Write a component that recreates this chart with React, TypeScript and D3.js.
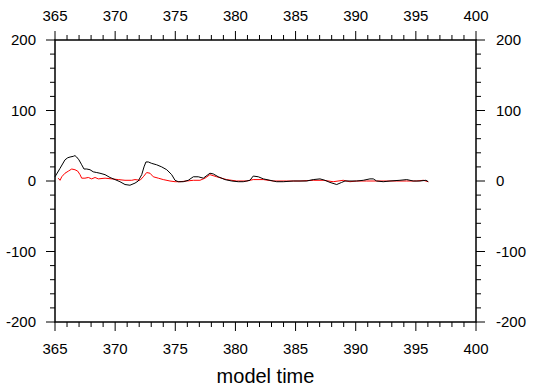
import React from 'react';
import * as d3 from 'd3';

// black series (model time, value)
const blackTime = [365.0, 365.42, 365.83, 366.06, 366.25, 366.52, 366.66, 366.8, 366.99, 367.22, 367.41, 367.64, 367.91, 368.18, 368.47, 368.74, 369.16, 369.57, 369.99, 370.4, 370.82, 371.23, 371.65, 371.92, 372.21, 372.4, 372.56, 372.76, 373.04, 373.45, 373.87, 374.29, 374.7, 374.98, 375.25, 375.66, 376.08, 376.5, 376.91, 377.33, 377.88, 378.16, 378.57, 379.13, 379.69, 380.24, 380.65, 381.21, 381.48, 381.9, 382.32, 382.87, 383.43, 383.98, 384.81, 385.92, 386.47, 387.03, 387.44, 387.86, 388.42, 388.83, 389.11, 389.52, 390.08, 390.63, 391.18, 391.46, 391.74, 392.29, 392.85, 393.68, 394.24, 394.78, 395.34, 395.84, 396.03];
const blackValue = [6, 18, 30, 33, 34, 35, 36, 34, 30, 23, 17, 17, 16, 13, 12, 11, 9, 5, 2, -1, -5, -6, -3, 0, 9, 20, 27, 27, 25, 23, 20, 16, 9, 1, -1, -1, 1, 6, 6, 4, 11, 10, 6, 2, 0, -1, -1, 1, 7, 6, 3, 1, -1, -1, 0, 0, 2, 3, 1, -2, -5, -2, 0, 0, 0, 1, 3, 3, 0, -1, 0, 1, 2, 0, 0, 1, -1];

// red series
const redTime = [365.27, 365.42, 365.56, 365.83, 366.11, 366.39, 366.66, 366.89, 367.08, 367.22, 367.49, 367.77, 368.05, 368.33, 368.6, 369.16, 369.71, 370.26, 370.82, 371.38, 371.65, 372.07, 372.34, 372.62, 372.9, 373.17, 373.59, 374.0, 374.56, 374.98, 375.39, 375.95, 376.5, 377.05, 377.47, 377.88, 378.44, 379.27, 380.1, 380.94, 381.48, 382.32, 383.15, 384.26, 385.37, 386.47, 387.3, 388.13, 388.96, 389.52, 390.08, 390.91, 391.74, 392.57, 393.4, 394.24, 395.07, 395.62, 396.03];
const redValue = [4, 1, 6, 11, 14, 17, 16, 14, 9, 4, 4, 5, 3, 5, 3, 4, 3, 2, 1, 1, 2, 1, 6, 12, 11, 6, 4, 2, 0, -1, -1, 0, 1, 1, 4, 9, 6, 2, 0, 0, 2, 2, 0, 0, 0, 1, 1, -1, 1, -1, 0, 0, 0, 0, 0, 0, 0, 1, -1];

const xMajor = [365, 370, 375, 380, 385, 390, 395, 400];
const yMajor = [-200, -100, 0, 100, 200];

const W = 533, H = 389;
const L = 55, R = 476, T = 40, B = 322;
const FONT = '"Liberation Sans", Arial, Helvetica, sans-serif';

export default function App() {
  const x = d3.scaleLinear().domain([365, 400]).range([L, R]);
  const y = d3.scaleLinear().domain([-200, 200]).range([B, T]);
  const xMinor = d3.range(365, 401, 1).filter(v => v % 5 !== 0);
  const yMinor = d3.range(-200, 201, 20).filter(v => v % 100 !== 0);
  const line = d3.line<[number, number]>().x(d => x(d[0])).y(d => y(d[1]));
  const black = line(blackTime.map((t, i) => [t, blackValue[i]]));
  const red = line(redTime.map((t, i) => [t, redValue[i]]));
  const MAJ = 9, MIN = 5;

  return (
    <svg width={W} height={H} style={{ position: 'absolute', left: 0, top: 0, background: '#fff' }} fontFamily={FONT}>
      <path d={red!} fill="none" stroke="#ff0000" strokeWidth={1} />
      <path d={black!} fill="none" stroke="#000" strokeWidth={1} />
      <rect x={L} y={T} width={R - L} height={B - T} fill="none" stroke="#000" strokeWidth={1.5} />
      <g stroke="#000" strokeWidth={1}>
        {xMajor.map(v => (
          <g key={'xm' + v}>
            <line x1={x(v)} x2={x(v)} y1={B} y2={B + MAJ} />
            <line x1={x(v)} x2={x(v)} y1={T} y2={T - MAJ} />
          </g>
        ))}
        {xMinor.map(v => (
          <g key={'xn' + v}>
            <line x1={x(v)} x2={x(v)} y1={B} y2={B + MIN} />
            <line x1={x(v)} x2={x(v)} y1={T} y2={T - MIN} />
          </g>
        ))}
        {yMajor.map(v => (
          <g key={'ym' + v}>
            <line x1={L} x2={L - MAJ} y1={y(v)} y2={y(v)} />
            <line x1={R} x2={R + MAJ} y1={y(v)} y2={y(v)} />
          </g>
        ))}
        {yMinor.map(v => (
          <g key={'yn' + v}>
            <line x1={L} x2={L - MIN} y1={y(v)} y2={y(v)} />
            <line x1={R} x2={R + MIN} y1={y(v)} y2={y(v)} />
          </g>
        ))}
      </g>
      <g fontSize={15} fill="#000">
        {xMajor.map(v => (
          <g key={'xl' + v}>
            <text x={x(v)} y={20.5} textAnchor="middle">{v}</text>
            <text x={x(v)} y={354} textAnchor="middle">{v}</text>
          </g>
        ))}
        {yMajor.map(v => (
          <g key={'yl' + v}>
            <text x={36} y={y(v) + 5.4} textAnchor="end">{v}</text>
            <text x={496} y={y(v) + 5.4} textAnchor="start">{v}</text>
          </g>
        ))}
      </g>
      <text x={(L + R) / 2} y={383} textAnchor="middle" fontSize={20} fill="#000">model time</text>
    </svg>
  );
}
